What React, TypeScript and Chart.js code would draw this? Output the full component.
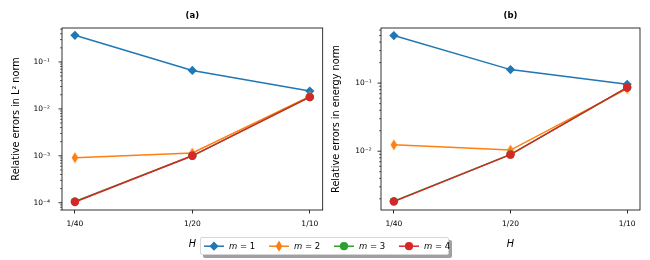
import React, { useEffect, useRef } from 'react';
import { Chart, registerables } from 'chart.js';

Chart.register(...registerables);

// ---- data ----
const H_LABELS = ['1/40', '1/20', '1/10'];
const SERIES_NAMES = ['1', '2', '3', '4'];
const COLORS = ['#1f77b4', '#ff7f0e', '#2ca02c', '#d62728'];

const L2_M1 = [0.37, 0.066, 0.024];
const L2_M2 = [9.1e-4, 1.15e-3, 0.0185];
const L2_M3 = [1.07e-4, 1.0e-3, 0.018];
const L2_M4 = [1.04e-4, 1.0e-3, 0.0178];

const EN_M1 = [0.5, 0.158, 0.096];
const EN_M2 = [0.0124, 0.0104, 0.083];
const EN_M3 = [1.85e-3, 9.0e-3, 0.086];
const EN_M4 = [1.82e-3, 8.9e-3, 0.0865];

const L2_MAJOR = [1e-4, 1e-3, 1e-2, 1e-1];
const EN_MAJOR = [1e-2, 1e-1];
const L2_RANGE = [7.0e-5, 0.53];
const EN_RANGE = [1.37e-3, 0.645];

const FONT = '"DejaVu Sans", sans-serif';
const SUP: Record<string, string> = { '-': '⁻', '0': '⁰', '1': '¹', '2': '²', '3': '³', '4': '⁴', '5': '⁵', '6': '⁶', '7': '⁷', '8': '⁸', '9': '⁹' };

function supLabel(v: number): string {
  const e = Math.round(Math.log10(v));
  return '10' + String(e).split('').map((c) => SUP[c]).join('');
}

function logTicks(min: number, max: number): number[] {
  const out: number[] = [];
  for (let e = Math.floor(Math.log10(min)); e <= Math.ceil(Math.log10(max)); e++) {
    for (let k = 1; k <= 9; k++) {
      const v = k * Math.pow(10, e);
      if (v >= min && v <= max) out.push(v);
    }
  }
  return out;
}

function isMajor(v: number, majors: number[]) {
  return majors.some((m) => Math.abs(v / m - 1) < 1e-6);
}

function makeThinDiamond(color: string): HTMLCanvasElement {
  const c = document.createElement('canvas');
  c.width = 8;
  c.height = 12;
  const g = c.getContext('2d')!;
  g.fillStyle = color;
  g.beginPath();
  g.moveTo(4, 0.5);
  g.lineTo(7.3, 6);
  g.lineTo(4, 11.5);
  g.lineTo(0.7, 6);
  g.closePath();
  g.fill();
  return c;
}

const framePlugin = {
  id: 'frame',
  afterDraw(chart: any) {
    const { ctx, chartArea: a } = chart;
    const y = chart.scales.y;
    const opts = chart.options.plugins.frame;
    ctx.save();
    ctx.strokeStyle = '#000';
    for (const t of y.ticks) {
      const p = y.getPixelForValue(t.value);
      const major = isMajor(t.value, opts.majors);
      ctx.lineWidth = major ? 0.8 : 0.6;
      ctx.beginPath();
      ctx.moveTo(a.left, p);
      ctx.lineTo(a.left - (major ? 3.5 : 2), p);
      ctx.stroke();
    }
    ctx.lineWidth = 0.8;
    ctx.strokeRect(a.left, a.top, a.right - a.left, a.bottom - a.top);
    ctx.fillStyle = '#000';
    ctx.font = 'bold 8.5px ' + FONT;
    ctx.textAlign = 'center';
    ctx.textBaseline = 'middle';
    ctx.fillText(opts.title, (a.left + a.right) / 2, 15.5);
    ctx.restore();
  },
};

type PanelProps = {
  title: string;
  yTitle: string;
  series: number[][];
  majors: number[];
  range: number[];
  yWidth: number;
  yTitlePad: number;
  yLabelPad: number;
  padRight: number;
};

function Panel(p: PanelProps) {
  const ref = useRef<HTMLCanvasElement>(null);
  useEffect(() => {
    const thin = makeThinDiamond(COLORS[1]);
    const styles: any[] = ['rectRot', thin, 'circle', 'circle'];
    const radii = [4.6, 6, 4.2, 4.2];
    const ticks = logTicks(p.range[0], p.range[1]);
    const chart = new Chart(ref.current!, {
      type: 'line',
      data: {
        datasets: p.series.map((s, i) => ({
          label: 'm = ' + SERIES_NAMES[i],
          data: s.map((v, j) => ({ x: j, y: v })),
          borderColor: COLORS[i],
          backgroundColor: COLORS[i],
          pointBackgroundColor: COLORS[i],
          pointBorderColor: COLORS[i],
          pointBorderWidth: 0,
          pointStyle: styles[i],
          pointRadius: radii[i],
          borderWidth: 1.5,
          tension: 0,
          order: 4 - i,
        })),
      },
      options: {
        animation: false,
        responsive: false,
        events: [],
        layout: { autoPadding: false, padding: { top: 28, left: 0, right: p.padRight, bottom: 0 } },
        plugins: {
          legend: { display: false },
          tooltip: { enabled: false },
          frame: { title: p.title, majors: p.majors },
        } as any,
        scales: {
          x: {
            type: 'linear',
            min: -0.11,
            max: 2.11,
            afterBuildTicks: (s: any) => {
              s.ticks = H_LABELS.map((_, i) => ({ value: i }));
            },
            afterFit: (s: any) => {
              s.height = 50;
              s.paddingLeft = 0;
              s.paddingRight = 0;
            },
            ticks: {
              autoSkip: false,
              maxRotation: 0,
              padding: 6,
              color: '#000',
              font: { family: FONT, size: 7.5 },
              callback: (v: any) => H_LABELS[Math.round(Number(v))] ?? '',
            },
            grid: { drawOnChartArea: false, drawTicks: true, tickLength: 3.5, tickColor: '#000', tickWidth: 0.8 },
            border: { display: false },
            title: {
              display: true,
              text: 'H',
              color: '#000',
              font: { family: FONT, size: 9.7, style: 'italic' },
              padding: { top: 0, bottom: 9.9 },
            },
          },
          y: {
            type: 'logarithmic',
            min: p.range[0],
            max: p.range[1],
            afterBuildTicks: (s: any) => {
              s.ticks = ticks.map((v) => ({ value: v }));
            },
            afterFit: (s: any) => {
              s.width = p.yWidth;
              s.paddingTop = 0;
              s.paddingBottom = 0;
            },
            ticks: {
              autoSkip: false,
              padding: p.yLabelPad,
              color: '#000',
              font: { family: FONT, size: 7.5 },
              callback: (v: any) => (isMajor(Number(v), p.majors) ? supLabel(Number(v)) : ''),
            },
            grid: { display: false, drawTicks: false },
            border: { display: false },
            title: {
              display: true,
              text: p.yTitle,
              color: '#000',
              font: { family: FONT, size: 9.7 },
              padding: { top: p.yTitlePad, bottom: 0 },
            },
          },
        },
      },
      plugins: [framePlugin],
    });
    return () => chart.destroy();
  }, []);
  return <canvas ref={ref} width={325} height={260} style={{ width: 325, height: 260, display: 'block' }} />;
}

function LegendMarker({ i }: { i: number }) {
  const c = COLORS[i];
  let m: React.ReactNode;
  if (i === 0) m = <polygon points="10,2.6 14.6,7.2 10,11.8 5.4,7.2" fill={c} />;
  else if (i === 1) m = <polygon points="10,1.6 13.3,7.2 10,12.8 6.7,7.2" fill={c} />;
  else m = <circle cx={10} cy={7.2} r={4.1} fill={c} />;
  return (
    <svg width={20} height={14} style={{ display: 'block' }}>
      <line x1={0} y1={7.2} x2={20} y2={7.2} stroke={c} strokeWidth={1.5} />
      {m}
    </svg>
  );
}

export default function App() {
  return (
    <div style={{ position: 'absolute', left: 0, top: 0, width: 650, height: 260, background: '#fff', overflow: 'hidden' }}>
      <div style={{ display: 'flex' }}>
        <Panel
          title="(a)"
          yTitle="Relative errors in L² norm"
          series={[L2_M1, L2_M2, L2_M3, L2_M4]}
          majors={L2_MAJOR}
          range={L2_RANGE}
          yWidth={62}
          yTitlePad={10.9}
          yLabelPad={12}
          padRight={2.3}
        />
        <Panel
          title="(b)"
          yTitle="Relative errors in energy norm"
          series={[EN_M1, EN_M2, EN_M3, EN_M4]}
          majors={EN_MAJOR}
          range={EN_RANGE}
          yWidth={56}
          yTitlePad={5.2}
          yLabelPad={9.3}
          padRight={10}
        />
      </div>
      <div
        style={{
          position: 'absolute',
          left: 200,
          top: 237,
          width: 247,
          height: 16,
          background: '#fff',
          border: '1px solid #d6d6d6',
          borderRadius: 2,
          boxShadow: '3px 3px 0 #a0a0a0',
          display: 'flex',
          alignItems: 'center',
          fontFamily: FONT,
          fontSize: 8.5,
          color: '#000',
        }}
      >
        {SERIES_NAMES.map((n, i) => (
          <div key={n} style={{ position: 'absolute', left: 3 + i * 65, top: 1, display: 'flex', alignItems: 'center', height: 14 }}>
            <LegendMarker i={i} />
            <span style={{ marginLeft: 5, whiteSpace: 'nowrap' }}>
              <i>m</i> = {n}
            </span>
          </div>
        ))}
      </div>
    </div>
  );
}
